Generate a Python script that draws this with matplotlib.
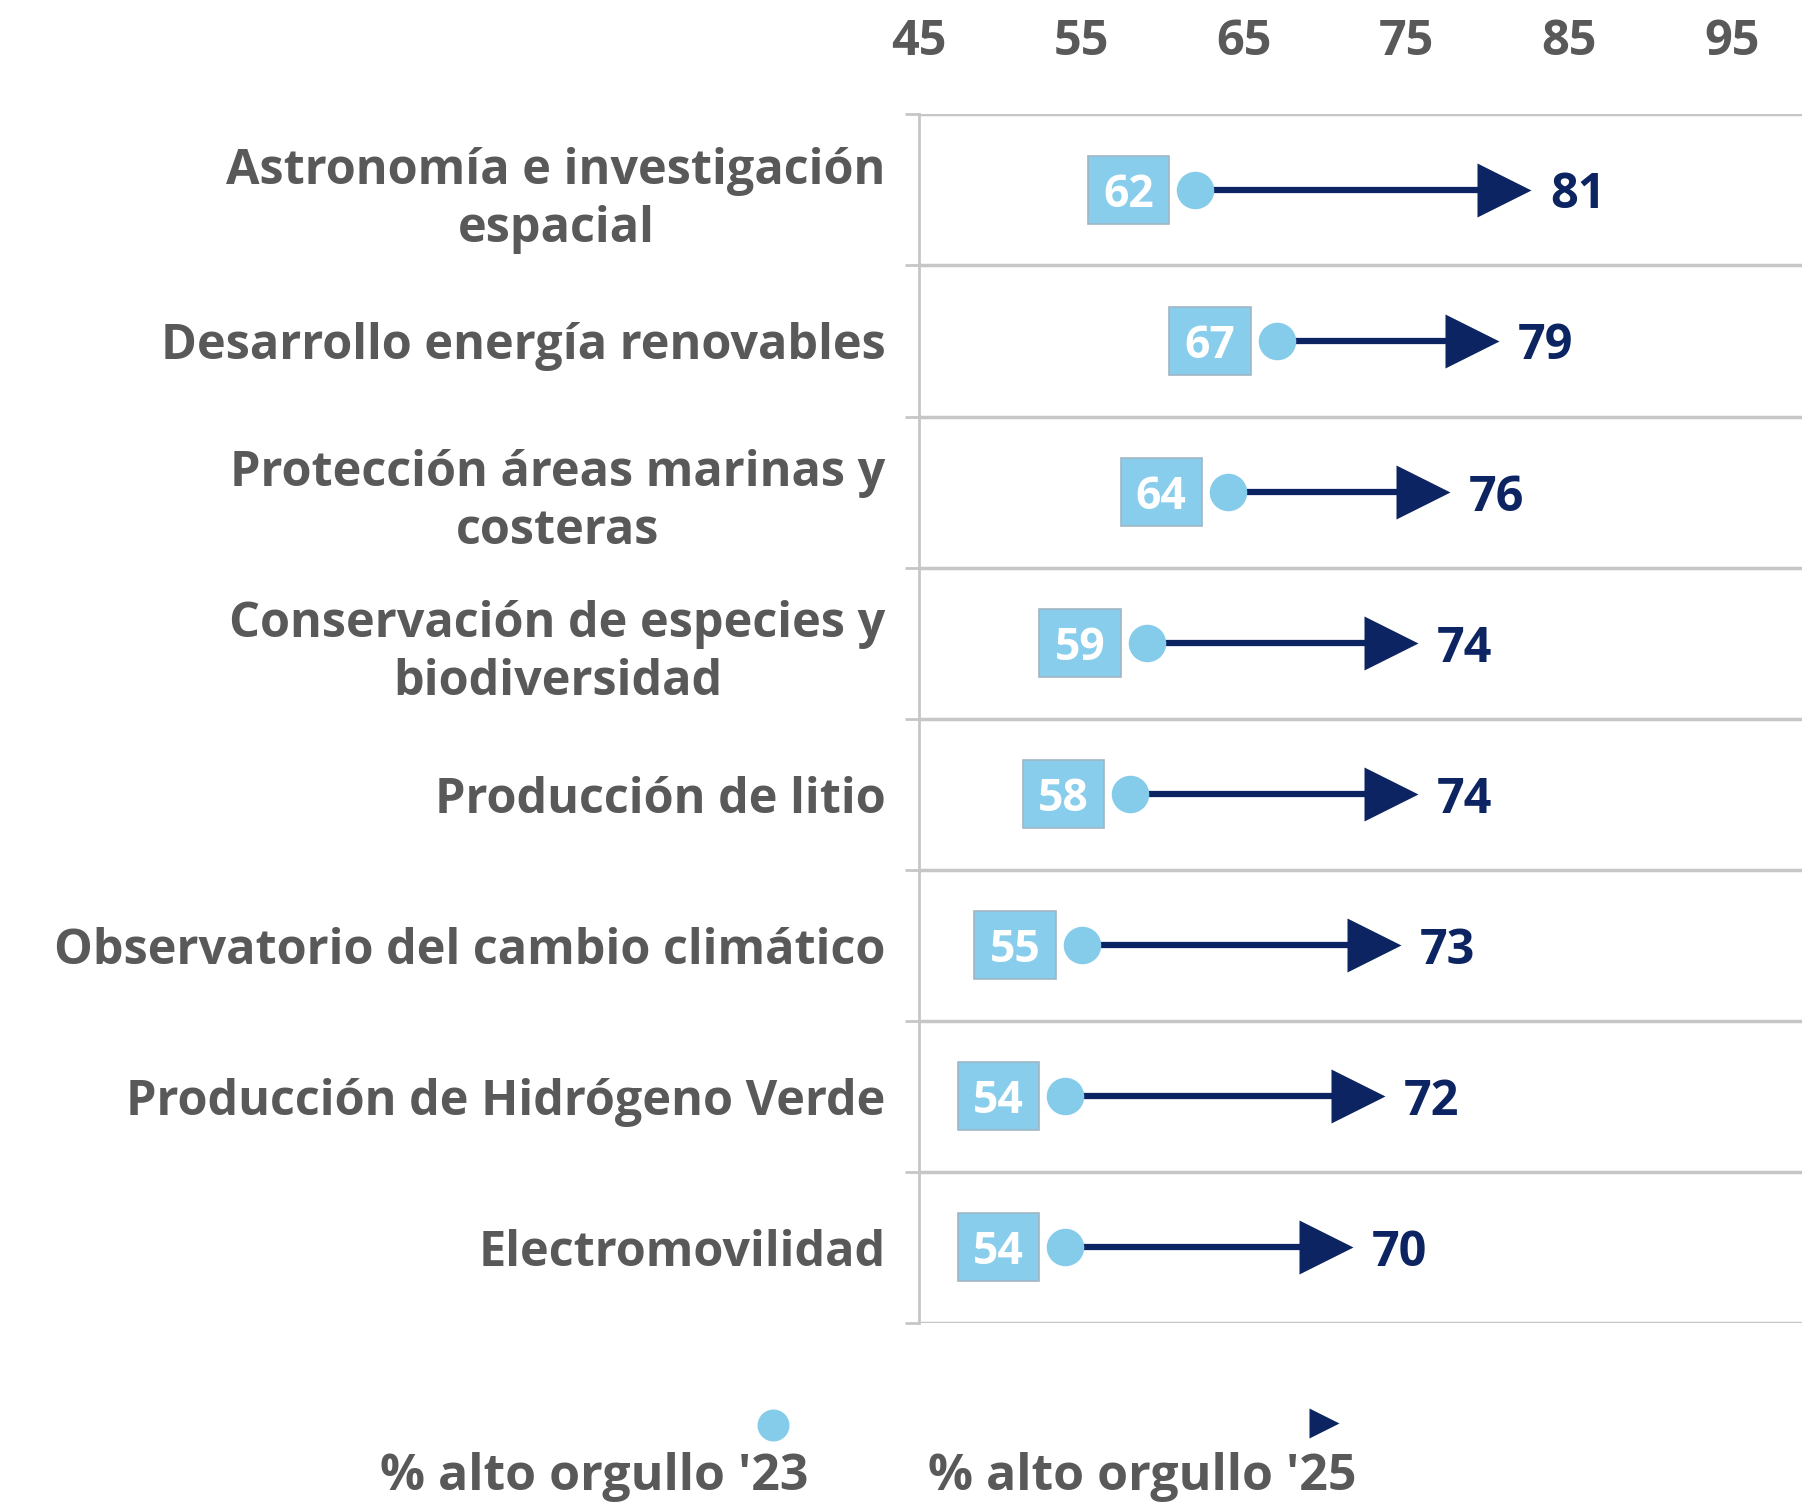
import matplotlib.pyplot as plt
from matplotlib.patches import Rectangle
from matplotlib.lines import Line2D

# Datos
categorias = [
    "Astronomía e investigación\nespacial",
    "Desarrollo energía renovables",
    "Protección áreas marinas y\ncosteras",
    "Conservación de especies y\nbiodiversidad",
    "Producción de litio",
    "Observatorio del cambio climático",
    "Producción de Hidrógeno Verde",
    "Electromovilidad",
]
orgullo_23 = [62, 67, 64, 59, 58, 55, 54, 54]
orgullo_25 = [81, 79, 76, 74, 74, 73, 72, 70]
ticks_x = [45, 55, 65, 75, 85, 95]

GRIS = "#595959"
AZUL = "#0c2461"
CELESTE = "#85cbea"
LINEA = "#c6c6c6"

plt.rcParams['font.family'] = ['Open Sans', 'DejaVu Sans']
plt.rcParams['font.weight'] = 'bold'

fig = plt.figure(figsize=(18.02, 15.05), dpi=100)
ax = fig.add_axes([0.510, 0.121, 0.490, 0.803])

n = len(categorias)
ys = [i + 0.5 for i in range(n)]

for y, a, b in zip(ys, orgullo_23, orgullo_25):
    ax.plot([a, b], [y, y], color=AZUL, lw=4.5, zorder=3, solid_capstyle='butt')
    ax.plot(a, y, 'o', ms=27, color=CELESTE, mec='none', zorder=4)
    ax.plot(b, y, '>', ms=39, color=AZUL, mec='none', zorder=4)
    # caja con valor '23
    ax.add_patch(Rectangle((a - 6.6, y - 0.225), 5.0, 0.45, facecolor="#88cdec",
                           edgecolor="#9fb6c4", lw=1.2, zorder=3))
    ax.text(a - 4.1, y, str(a), color="white", fontsize=32, fontweight='bold',
            ha='center', va='center_baseline', zorder=5)
    ax.annotate(str(b), (b, y), xytext=(33, 0), textcoords='offset points',
                color=AZUL, fontsize=35, fontweight='bold', ha='left',
                va='center_baseline')

ax.set_xlim(45, 99.3)
ax.set_ylim(n, 0)

ax.set_xticks(ticks_x)
ax.xaxis.tick_top()
ax.tick_params(axis='x', length=0, pad=34, labelsize=35, labelcolor=GRIS)

ax.set_yticks(range(n + 1))
ax.set_yticklabels([])
ax.set_yticks(ys, minor=True)
ax.set_yticklabels(categorias, minor=True, fontsize=35, color=GRIS,
                   fontweight='bold', linespacing=1.25, multialignment='center')
ax.tick_params(axis='y', which='major', length=10, width=2, color=LINEA)
ax.tick_params(axis='y', which='minor', length=0, pad=24)

ax.grid(axis='y', which='major', color=LINEA, lw=2.5)
ax.set_axisbelow(True)
for s in ['top', 'right', 'bottom']:
    ax.spines[s].set_visible(False)
ax.spines['left'].set_color(LINEA)
ax.spines['left'].set_linewidth(2)

# Leyenda
fig.add_artist(Line2D([773 / 1802], [1 - 1425 / 1505], marker='o', ms=23,
                      color=CELESTE, mec='none', transform=fig.transFigure))
fig.add_artist(Line2D([1324 / 1802], [1 - 1423 / 1505], marker='>', ms=21,
                      color=AZUL, mec='none', transform=fig.transFigure))
fig.text(594 / 1802, 3 / 1505, "% alto orgullo '23", fontsize=36,
         color=GRIS, fontweight='bold', ha='center', va='bottom')
fig.text(1142 / 1802, 3 / 1505, "% alto orgullo '25", fontsize=36,
         color=GRIS, fontweight='bold', ha='center', va='bottom')

fig.savefig("out.png", dpi=100)
